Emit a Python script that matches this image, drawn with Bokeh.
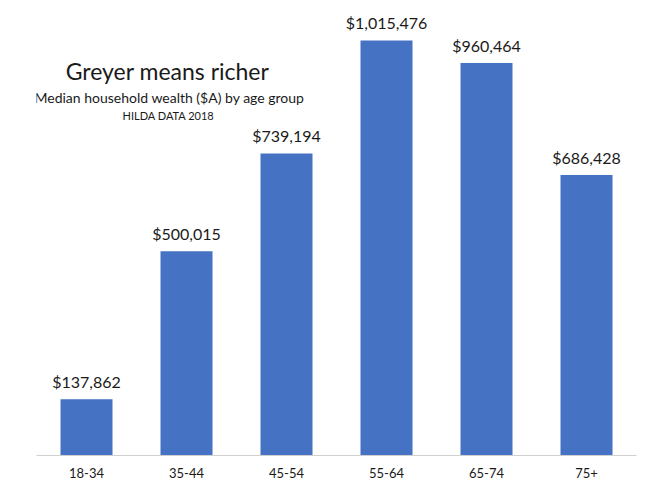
from bokeh.plotting import figure
from bokeh.models import ColumnDataSource, Label
from bokeh.core.properties import value
from bokeh.embed import file_html
from bokeh.resources import INLINE

categories = ["18-34", "35-44", "45-54", "55-64", "65-74", "75+"]
wealth = [137862, 500015, 739194, 1015476, 960464, 686428]
labels = ["$137,862", "$500,015", "$739,194", "$1,015,476", "$960,464", "$686,428"]

FONT = "Lato"
src = ColumnDataSource(dict(cat=categories, val=wealth, lab=labels))

p = figure(x_range=categories, y_range=(0, 1113350), width=650, height=488,
           output_backend="svg", toolbar_location=None,
           min_border_left=36, min_border_right=14, min_border_top=0, min_border_bottom=33)
p.vbar(x="cat", top="val", width=0.52, source=src, color="#4672C4", line_color=None)
p.text(x="cat", y="val", text="lab", source=src, text_align="center", text_baseline="bottom",
       y_offset=-8, text_font=value(FONT), text_font_size="16px", text_color="#1a1a1a")

p.yaxis.visible = False
p.xgrid.visible = False
p.ygrid.visible = False
p.outline_line_color = None
p.xaxis.axis_line_color = "#d0d0d0"
p.xaxis.major_tick_line_color = None
p.xaxis.minor_tick_line_color = None
p.xaxis.major_label_text_font = FONT
p.xaxis.major_label_text_font_size = "13px"
p.xaxis.major_label_text_color = "#1a1a1a"
p.xaxis.major_label_standoff = 6
p.x_range.range_padding = 0

p.add_layout(Label(x=131, y=385, x_units="screen", y_units="screen", text="Greyer means richer",
                   text_align="center", text_baseline="middle", text_font=FONT,
                   text_font_size="23px", text_color="#1a1a1a"))
p.add_layout(Label(x=133, y=358, x_units="screen", y_units="screen",
                   text="Median household wealth ($A) by age group",
                   text_align="center", text_baseline="middle", text_font=FONT,
                   text_font_size="14px", text_color="#1a1a1a"))
p.add_layout(Label(x=132, y=340, x_units="screen", y_units="screen", text="HILDA DATA 2018",
                   text_align="center", text_baseline="middle", text_font=FONT,
                   text_font_size="11px", text_color="#1a1a1a"))

open("out.html", "w").write(file_html(p, INLINE))
